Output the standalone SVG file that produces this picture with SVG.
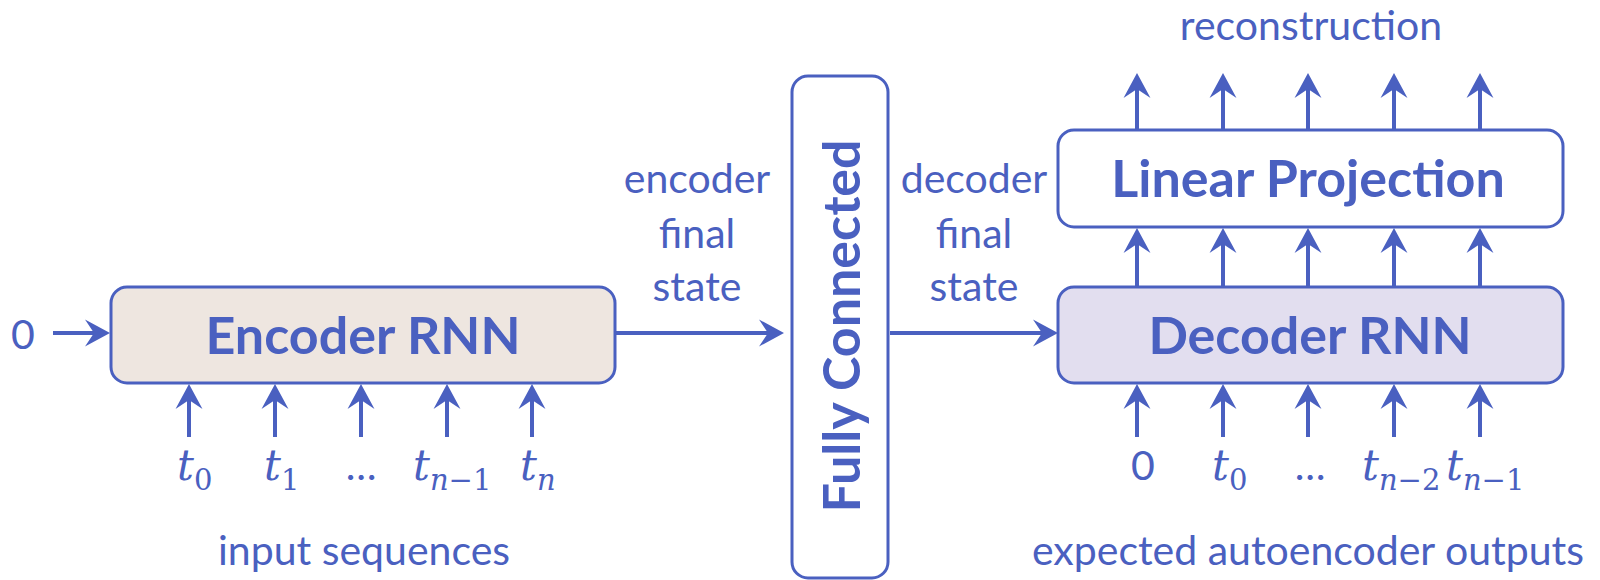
<svg xmlns="http://www.w3.org/2000/svg" width="1600" height="580" viewBox="0 0 1600 580">
<style>
.box{stroke:#4A60C0;stroke-width:3}
.lbl{font-family:Lato,'Noto Sans',sans-serif;font-size:41px;fill:#4A60C0;text-anchor:middle}
.big{font-family:Lato,'Noto Sans',sans-serif;font-size:52px;font-weight:bold;fill:#4A60C0;text-anchor:middle}
.math{font-family:'DejaVu Serif',serif;font-size:42px;fill:#4A60C0}
.it{font-style:italic}
.sub{font-size:29px}
.con line{stroke:#4A60C0;stroke-width:4;marker-end:url(#ah)}
</style>
<defs>
<marker id="ah" markerUnits="userSpaceOnUse" markerWidth="26" markerHeight="28" viewBox="0 0 26 28" refX="9" refY="14" orient="auto">
<path d="M0,0.5 L25,14 L0,27.5 L9,14 Z" fill="#4A60C0"/>
</marker>
</defs>
<rect width="1600" height="580" fill="#fff"/>

<g id="encoder">
<rect class="box" x="111" y="287" width="504" height="96" rx="16" fill="#EEE6E0"/>
<text class="big" x="363" y="354">Encoder RNN</text>
</g>
<g id="fc">
<rect class="box" x="792" y="76" width="96" height="502" rx="16" fill="#fff"/>
<text class="big" transform="translate(860,326) rotate(-90)" x="0" y="0">Fully Connected</text>
</g>
<g id="decoder">
<rect class="box" x="1058" y="287" width="505" height="96" rx="16" fill="#E2DEEF"/>
<text class="big" x="1310" y="354">Decoder RNN</text>
</g>
<g id="linear">
<rect class="box" x="1058" y="130" width="505" height="97" rx="16" fill="#fff"/>
<text class="big" x="1308" y="197">Linear Projection</text>
</g>

<g id="labels">
<text class="lbl" x="23" y="349">0</text>
<text class="lbl" x="697" y="193">encoder</text>
<text class="lbl" x="697" y="248">final</text>
<text class="lbl" x="697" y="301">state</text>
<text class="lbl" x="974" y="193">decoder</text>
<text class="lbl" x="974" y="248">final</text>
<text class="lbl" x="974" y="301">state</text>
<text class="lbl" x="1311" y="40">reconstruction</text>
<text class="lbl" x="364" y="565">input sequences</text>
<text class="lbl" x="1308" y="565">expected autoencoder outputs</text>
<text class="math" x="177" y="480"><tspan class="it">t</tspan><tspan class="sub" dy="10">0</tspan></text>
<text class="math" x="264" y="480"><tspan class="it">t</tspan><tspan class="sub" dy="10">1</tspan></text>
<text class="lbl" x="361" y="480">…</text>
<text class="math" x="413" y="480"><tspan class="it">t</tspan><tspan class="sub" dy="10"><tspan class="it">n</tspan>−1</tspan></text>
<text class="math" x="520" y="480"><tspan class="it">t</tspan><tspan class="sub it" dy="10">n</tspan></text>
<text class="lbl" x="1143" y="480">0</text>
<text class="math" x="1212" y="480"><tspan class="it">t</tspan><tspan class="sub" dy="10">0</tspan></text>
<text class="lbl" x="1310" y="480">…</text>
<text class="math" x="1362" y="480"><tspan class="it">t</tspan><tspan class="sub" dy="10"><tspan class="it">n</tspan>−2</tspan></text>
<text class="math" x="1446" y="480"><tspan class="it">t</tspan><tspan class="sub" dy="10"><tspan class="it">n</tspan>−1</tspan></text>
</g>

<g id="connectors" class="con">
<line x1="53" y1="333" x2="94" y2="333"/>
<line x1="615" y1="333" x2="768" y2="333"/>
<line x1="890" y1="333" x2="1042" y2="333"/>
<line x1="189" y1="437" x2="189" y2="400"/>
<line x1="275" y1="437" x2="275" y2="400"/>
<line x1="361" y1="437" x2="361" y2="400"/>
<line x1="447" y1="437" x2="447" y2="400"/>
<line x1="532" y1="437" x2="532" y2="400"/>
<line x1="1137" y1="437" x2="1137" y2="400"/>
<line x1="1223" y1="437" x2="1223" y2="400"/>
<line x1="1308" y1="437" x2="1308" y2="400"/>
<line x1="1394" y1="437" x2="1394" y2="400"/>
<line x1="1480" y1="437" x2="1480" y2="400"/>
<line x1="1137" y1="287" x2="1137" y2="244"/>
<line x1="1223" y1="287" x2="1223" y2="244"/>
<line x1="1308" y1="287" x2="1308" y2="244"/>
<line x1="1394" y1="287" x2="1394" y2="244"/>
<line x1="1480" y1="287" x2="1480" y2="244"/>
<line x1="1137" y1="130" x2="1137" y2="89"/>
<line x1="1223" y1="130" x2="1223" y2="89"/>
<line x1="1308" y1="130" x2="1308" y2="89"/>
<line x1="1394" y1="130" x2="1394" y2="89"/>
<line x1="1480" y1="130" x2="1480" y2="89"/>
</g>
</svg>
